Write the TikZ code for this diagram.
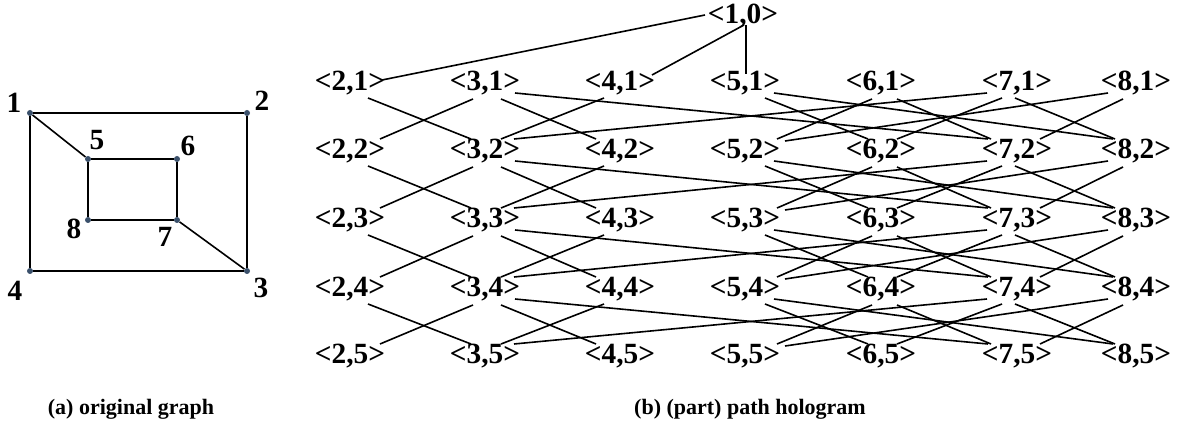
\documentclass[tikz,border=0pt]{standalone}
\usepackage{fontspec}
\setmainfont{Liberation Serif}
\usetikzlibrary{calc}
\tikzset{
  lbl/.style={font=\fontsize{22}{24}\selectfont\bfseries, inner sep=0pt},
  captext/.style={font=\fontsize{16.5}{18}\selectfont\bfseries, inner sep=0pt},
  ln/.style={line width=1.2pt, black},
  vdot/.style={circle, fill=vcol, inner sep=0pt, minimum size=4.5pt},
}
\definecolor{vcol}{HTML}{3A506B}
\begin{document}
\begin{tikzpicture}[x=0.75pt,y=-0.75pt]
\useasboundingbox (0,0) rectangle (1180,423);
% ---------- (a) original graph ----------
\node[vdot] (g1) at (30,113) {};
\node[vdot] (g2) at (247,113) {};
\node[vdot] (g3) at (247,271) {};
\node[vdot] (g4) at (30,271) {};
\node[vdot] (g5) at (88,159) {};
\node[vdot] (g6) at (177,159) {};
\node[vdot] (g7) at (177,220) {};
\node[vdot] (g8) at (88,220) {};
\draw[ln] (g1) -- (g2) -- (g3) -- (g4) -- (g1);
\draw[ln] (g1) -- (g5);
\draw[ln] (g5) -- (g6) -- (g7) -- (g8) -- (g5);
\draw[ln] (g7) -- (g3);
\node[lbl] (t1) at (14,103) {1};
\node[lbl] (t2) at (262,101) {2};
\node[lbl] (t3) at (261,288) {3};
\node[lbl] (t4) at (15,291) {4};
\node[lbl] (t5) at (97,140) {5};
\node[lbl] (t6) at (188,146) {6};
\node[lbl] (t7) at (165,237) {7};
\node[lbl] (t8) at (74,229) {8};
\node[captext] (capa) at (131,409) {(a) original graph};
% ---------- (b) path hologram ----------
\node[lbl] (n-1-0) at (743,16) {<1,0>};
\foreach \k/\y in {1/83,2/151,3/220,4/289,5/356}{
  \foreach \v/\x in {2/350,3/485,4/620,5/745,6/881,7/1017,8/1136}{
    \node[lbl] (n-\v-\k) at (\x,\y) {<\v,\k>};
  }
}
\draw[ln] ($(n-1-0)+(-38,-1)$) -- ($(n-2-1)+(32,-3)$);
\draw[ln] ($(n-1-0)+(1,9)$) -- ($(n-4-1)+(32,-8)$);
\draw[ln] ($(n-1-0)+(3,9)$) -- ($(n-5-1)+(1,-9)$);
\foreach \k [evaluate=\k as \kk using int(\k+1)] in {1,2,3,4}{
  \foreach \u/\v/\sx/\sy/\ex/\ey in {
    2/3/18/15/-14/-12, 3/2/-12/16/30/-12,
    3/4/16/16/-24/-12, 4/3/-16/15/16/-12,
    3/7/30/10/-29/-12, 7/3/-30/10/29/-12,
    5/6/20/15/-13/-12, 6/5/-9/16/32/-12,
    6/7/16/16/-26/-12, 7/6/-15/15/16/-12,
    7/8/-2/15/-21/-12, 8/7/-13/16/23/-12,
    5/8/29/10/-23/-12, 8/5/-28/10/40/-10}{
    \draw[ln] ($(n-\u-\k)+(\sx,\sy)$) -- ($(n-\v-\kk)+(\ex,\ey)$);
  }
}
\node[captext] (capb) at (750,409) {(b) (part) path hologram};
\end{tikzpicture}
\end{document}
